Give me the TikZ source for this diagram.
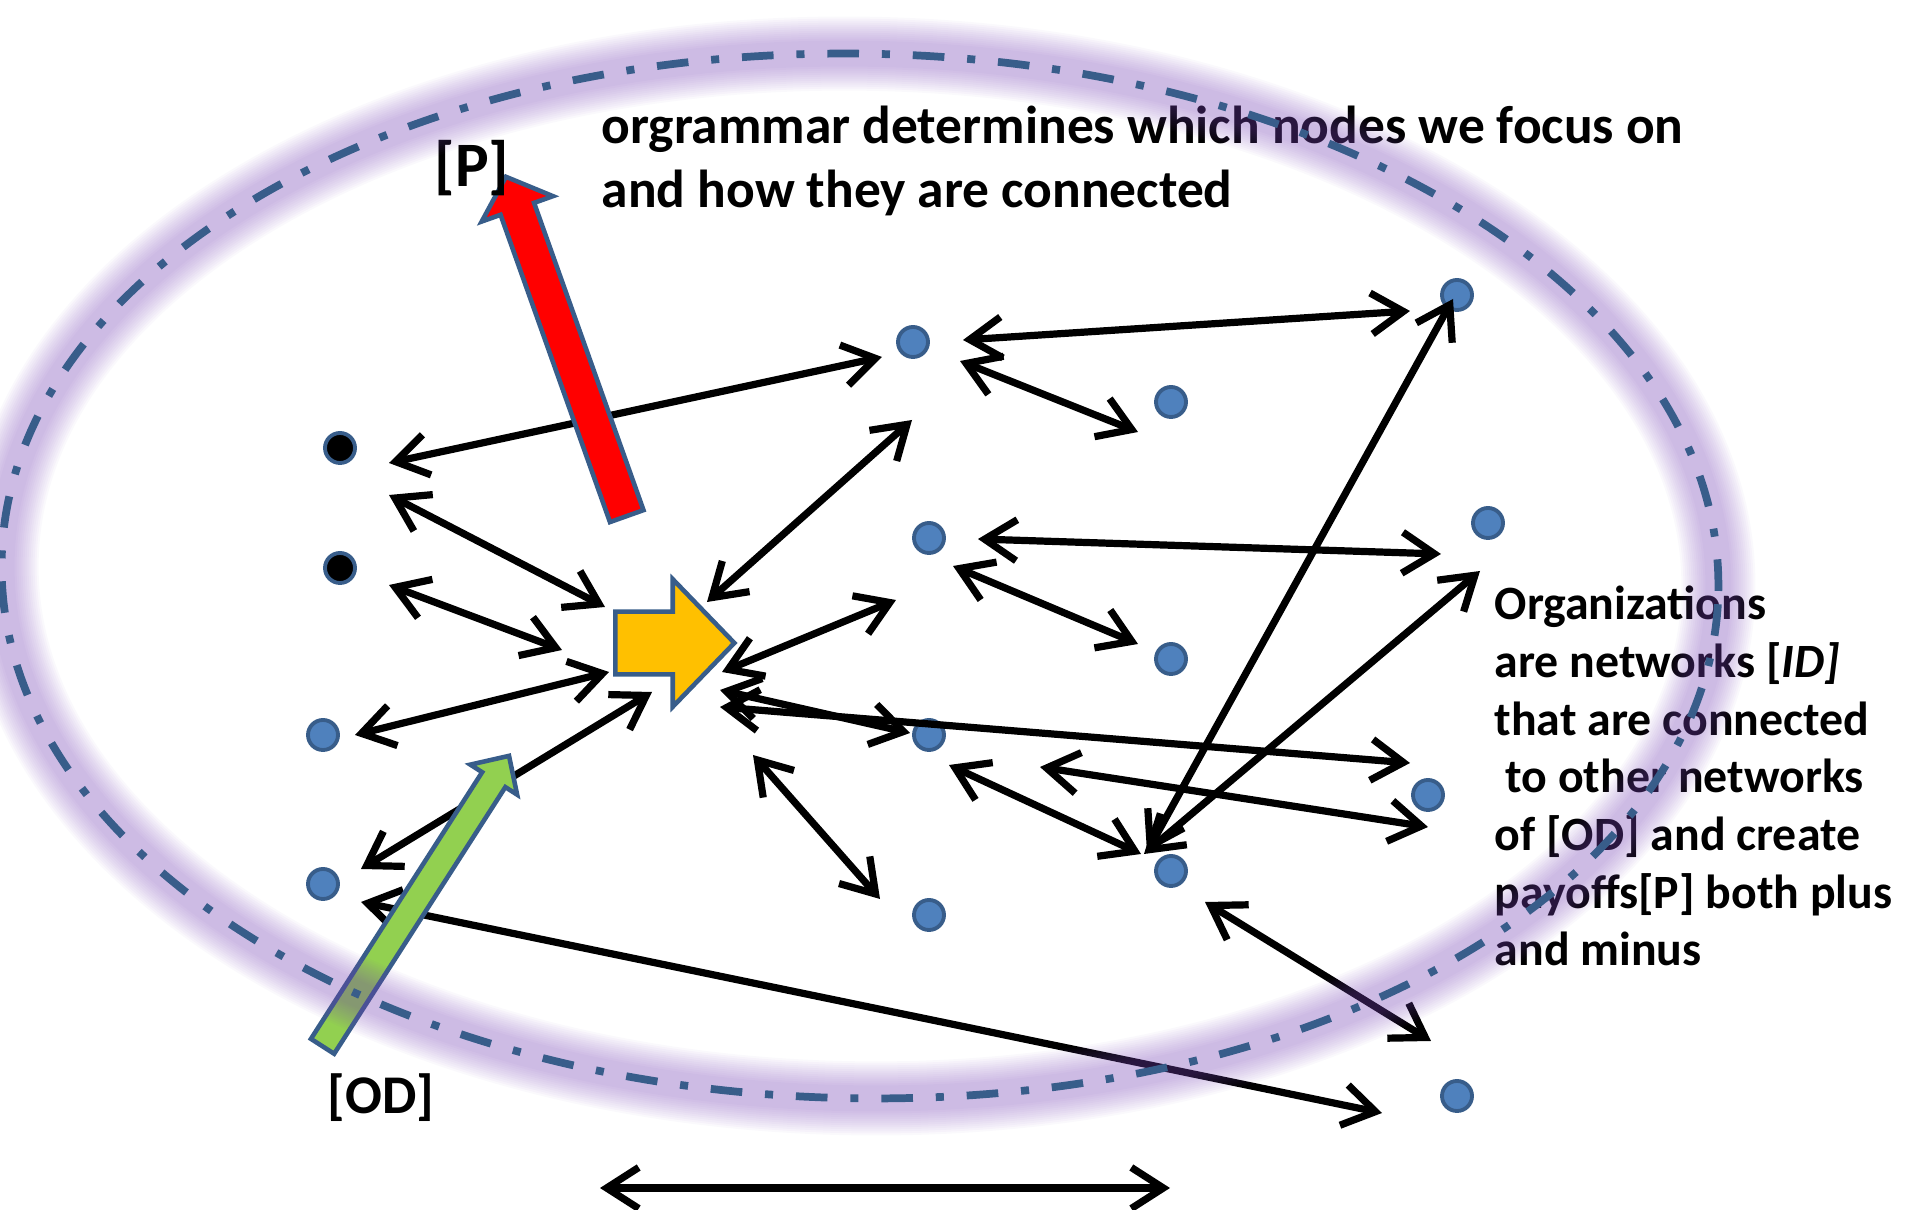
\documentclass[tikz,border=0pt]{standalone}
\usepackage{fontspec}
\setmainfont{Carlito}
\usetikzlibrary{arrows.meta}
\usetikzlibrary{calc}
\usetikzlibrary{shapes.arrows}

\definecolor{rim}{RGB}{56,93,138}
\definecolor{dotblue}{RGB}{79,129,189}
\definecolor{orgyellow}{RGB}{255,192,0}
\definecolor{odgreen}{RGB}{146,208,80}
\definecolor{halo}{RGB}{122,73,183}

\tikzset{
  netdot/.style={circle, draw=rim, line width=1.1pt, fill=dotblue, minimum size=0.30cm, inner sep=0pt},
  blackdot/.style={netdot, fill=black},
  link/.style={line width=2.05pt, {Straight Barb[length=3.2mm,width=4.1mm]}-{Straight Barb[length=3.2mm,width=4.1mm]}},
  blockarrow/.style={single arrow, draw=rim, line width=1.3pt, inner xsep=0pt},
  txt/.style={align=left, inner sep=0pt},
}

\begin{document}
\begin{tikzpicture}[x=0.01cm, y=-0.01cm]
\useasboundingbox (0,0) rectangle (1920,1210);

% the network
\node[blackdot] (bk1) at (340,448) {};
\node[blackdot] (bk2) at (340,568) {};
\node[netdot] (b1) at (913,342) {};
\node[netdot] (b2) at (1457,295) {};
\node[netdot] (b3) at (1171,402) {};
\node[netdot] (b4) at (929,538) {};
\node[netdot] (b5) at (1488,523) {};
\node[netdot] (b6) at (1171,659) {};
\node[netdot] (b7) at (323,735) {};
\node[netdot] (b8) at (929,735) {};
\node[netdot] (b9) at (1428,795) {};
\node[netdot] (b10) at (323,884) {};
\node[netdot] (b11) at (1171,871) {};
\node[netdot] (b12) at (929,915) {};
\node[netdot] (b13) at (1457,1096) {};
\node[blockarrow, fill=orgyellow, inner ysep=0.29cm, minimum height=1.19cm, anchor=tail,
      single arrow head extend=0.325cm, single arrow tip angle=92] (org) at (613,643) {};
\coordinate (spanL) at (600,1188);
\coordinate (spanR) at (1170,1188);

% links to the organization
\draw[link] ($(bk1)+(49,15)$) -- ($(b1)+(-31,15)$);
\draw[link] ($(bk1)+(49,47)$) -- ($(org.tail)+(-8,-36)$);
\draw[link] ($(bk2)+(49,17)$) -- ($(org.tail)+(-51,7)$);
\draw[link] ($(b7)+(32,0)$) -- ($(org.tail)+(-4,29)$);
\draw[link] ($(b10)+(38,-15)$) -- ($(org.tail)+(39,49)$);
\draw[link] ($(b10)+(38,18)$) -- ($(b13)+(-75,17)$);
\draw[link] ($(org.tail)+(94,-41)$) -- ($(b1)+(-1,78)$);
\draw[link] ($(org.tail)+(109,29)$) -- ($(b4)+(-33,62)$);
\draw[link] ($(org.tail)+(107,64)$) -- ($(b9)+(-18,-32)$);
\draw[link] ($(org.tail)+(107,47)$) -- ($(b8)+(-19,-2)$);
\draw[link] ($(org.tail)+(140,112)$) -- ($(b12)+(-49,-16)$);
% links between the outer nodes
\draw[link] ($(b1)+(50,-2)$) -- ($(b2)+(-47,16)$);
\draw[link] ($(b1)+(47,19)$) -- ($(b3)+(-33,30)$);
\draw[link] ($(b11)+(-24,-19)$) -- ($(b2)+(-4,4)$);
\draw[link] ($(b11)+(-27,-17)$) -- ($(b5)+(-8,48)$);
\draw[link] ($(b4)+(49,1)$) -- ($(b5)+(-47,31)$);
\draw[link] ($(b4)+(24,28)$) -- ($(b6)+(-33,-15)$);
\draw[link] ($(b8)+(20,30)$) -- ($(b11)+(-30,-17)$);
\draw[link] ($(b8)+(111,32)$) -- ($(b9)+(0,32)$);
\draw[link] ($(b11)+(34,31)$) -- ($(b13)+(-26,-55)$);
\draw[link] (spanL) -- (spanR);

% payoffs and outside dependencies
\node[blockarrow, fill=red, inner ysep=0.155cm, minimum height=3.6cm,
      single arrow head extend=0.2cm, single arrow tip angle=96, rotate=109.6] (pay) at (569,354) {};
\node[blockarrow, fill=odgreen, inner ysep=0.115cm, minimum height=3.45cm,
      single arrow head extend=0.14cm, single arrow tip angle=89, rotate=57.3] (od) at (412,907) {};

% texts
\node[txt, font=\bfseries\fontsize{18}{21}\selectfont] (plbl) at (472,168) {[P]};
\node[txt, font=\bfseries\fontsize{15.5}{18}\selectfont] (odlbl) at (381,1098) {[OD]};
\node[txt, anchor=base west, font=\bfseries\fontsize{15.2}{18.2}\selectfont] (grammar) at (601,208)
  {orgrammar determines which nodes we focus on\\and how they are connected};
\node[txt, anchor=base west, font=\bfseries\fontsize{13.6}{16.4}\selectfont] (claim) at (1494,966)
  {Organizations\\are networks [\textit{ID]}\\that are connected\\\ to other networks\\of [OD] and create\\payoffs[P] both plus\\and minus};

% the glowing boundary
\begin{scope}[rotate around={-1:(860,576)}]
\foreach \w in {0.74,0.70,...,0.22}
  \draw[halo, line width=\w cm, opacity=0.036] (860,576) ellipse [x radius=8.58cm, y radius=5.22cm];
\draw[rim, line width=2.2pt, dash pattern=on 9pt off 6.5pt on 2.3pt off 6.5pt]
  (860,576) ellipse [x radius=8.58cm, y radius=5.22cm];
\end{scope}
\end{tikzpicture}
\end{document}
